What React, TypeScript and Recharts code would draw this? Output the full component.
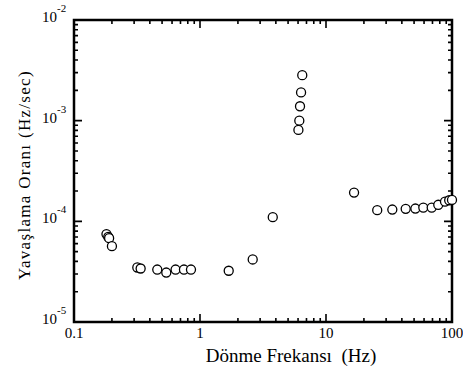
import React from "react";
import { ScatterChart, Scatter, XAxis, YAxis, ZAxis } from "recharts";

// rotation frequency (Hz) and slow-down rate (Hz/sec)
const frequency = [
  0.181, 0.187, 0.19, 0.2, 0.318, 0.338, 0.458, 0.54, 0.64, 0.746, 0.848, 1.69, 2.62, 3.78,
  6.04, 6.14, 6.22, 6.34, 6.48, 16.7, 25.5, 33.6, 42.9, 51.2, 59.2, 69, 77.8, 88, 95, 100,
];
const slowdown = [
  7.47e-5, 7.0e-5, 6.8e-5, 5.67e-5, 3.48e-5, 3.4e-5, 3.32e-5, 3.1e-5, 3.32e-5, 3.32e-5, 3.32e-5,
  3.23e-5, 4.18e-5, 1.1e-4, 8.1e-4, 1.0e-3, 1.39e-3, 1.91e-3, 2.83e-3, 1.93e-4, 1.29e-4, 1.31e-4,
  1.33e-4, 1.34e-4, 1.37e-4, 1.37e-4, 1.46e-4, 1.57e-4, 1.62e-4, 1.63e-4,
];

const xMajor = [0.1, 1, 10, 100];
const xLabels = ["0.1", "1", "10", "100"];
const yMajor = [1e-5, 1e-4, 1e-3, 1e-2];
const yExponents = ["-5", "-4", "-3", "-2"];

// axis titles (Turkish letters written as escapes: ö, ı, ş)
const xTitle = "D\u00f6nme Frekans\u0131  (Hz)";
const yTitle = "Yava\u015flama Oran\u0131 (Hz/sec)";

const minorsOf = (majors: number[]) =>
  majors.slice(0, -1).flatMap((m) => [2, 3, 4, 5, 6, 7, 8, 9].map((k) => +(m * k).toPrecision(3)));

const xTicks = [...xMajor, ...minorsOf(xMajor)].sort((a, b) => a - b);
const yTicks = [...yMajor, ...minorsOf(yMajor)].sort((a, b) => a - b);

const data = frequency.map((f, i) => ({ f, r: slowdown[i] }));

const FONT = "Liberation Serif";
const majorIndex = (list: number[], v: number) => list.findIndex((m) => Math.abs(m - v) / m < 1e-6);

// chart geometry
const W = 463;
const H = 371;
const M = { top: 20, right: 11, left: 0, bottom: 0 };
const Y_AXIS_W = 74;
const X_AXIS_H = 49;
const PLOT_W = W - Y_AXIS_W - M.right;
const PLOT_H = H - M.top - X_AXIS_H;

// default tickSize 6 + tickMargin 2 => tick x/y arrive 8px away from the axis line
const OFF = 8;

// bottom ticks also mirror onto the top edge of the frame
const BottomTick = (props: any) => {
  const { x, y, payload } = props;
  const i = majorIndex(xMajor, payload.value);
  const len = i >= 0 ? 8 : 4;
  const y0 = y - OFF;
  const yTop = y0 - PLOT_H;
  return (
    <g>
      <path
        d={`M${x},${y0}V${y0 - len}M${x},${yTop}V${yTop + len}`}
        stroke="#000"
        strokeWidth={1.6}
        fill="none"
      />
      {i >= 0 && (
        <text x={x} y={y0 + 16} textAnchor="middle" fontSize={15} fontFamily={FONT} fill="#000">
          {xLabels[i]}
        </text>
      )}
    </g>
  );
};

// left ticks also mirror onto the right edge of the frame
const LeftTick = (props: any) => {
  const { x, y, payload } = props;
  const i = majorIndex(yMajor, payload.value);
  const len = i >= 0 ? 8 : 4;
  const x0 = x + OFF;
  const xRight = x0 + PLOT_W;
  return (
    <g>
      <path
        d={`M${x0},${y}H${x0 + len}M${xRight},${y}H${xRight - len}`}
        stroke="#000"
        strokeWidth={1.6}
        fill="none"
      />
      {i >= 0 && (
        <text x={x0 - 17} y={y + 2} textAnchor="end" fontSize={15} fontFamily={FONT} fill="#000">
          10
        </text>
      )}
      {i >= 0 && (
        <text x={x0 - 17} y={y - 8} textAnchor="start" fontSize={11} fontFamily={FONT} fill="#000">
          {yExponents[i]}
        </text>
      )}
    </g>
  );
};

export default function App() {
  return (
    <div style={{ position: "absolute", left: 0, top: 0 }}>
      <ScatterChart width={W} height={H} margin={M}>
        <path
          d={`M${Y_AXIS_W},${M.top}h${PLOT_W}v${PLOT_H}h${-PLOT_W}Z`}
          fill="none"
          stroke="#000"
          strokeWidth={2.5}
        />
        <XAxis
          dataKey="f"
          type="number"
          scale="log"
          domain={[0.1, 100]}
          ticks={xTicks}
          interval={0}
          height={X_AXIS_H}
          tickLine={false}
          axisLine={false}
          tick={<BottomTick />}
        />
        <YAxis
          dataKey="r"
          type="number"
          scale="log"
          domain={[1e-5, 1e-2]}
          ticks={yTicks}
          interval={0}
          width={Y_AXIS_W}
          tickLine={false}
          axisLine={false}
          tick={<LeftTick />}
        />
        <ZAxis range={[40, 40]} />
        <Scatter
          data={data}
          shape="circle"
          fill="#fff"
          stroke="#000"
          strokeWidth={1.3}
          isAnimationActive={false}
        />
        <text
          x={291}
          y={362}
          textAnchor="middle"
          fontSize={19}
          fontFamily={FONT}
          fill="#000"
          style={{ whiteSpace: "pre" }}
        >
          {xTitle}
        </text>
        <text
          x={30}
          y={175}
          transform="rotate(-90 30 175)"
          textAnchor="middle"
          fontSize={17}
          letterSpacing={1.3}
          fontFamily={FONT}
          fill="#000"
        >
          {yTitle}
        </text>
      </ScatterChart>
    </div>
  );
}
